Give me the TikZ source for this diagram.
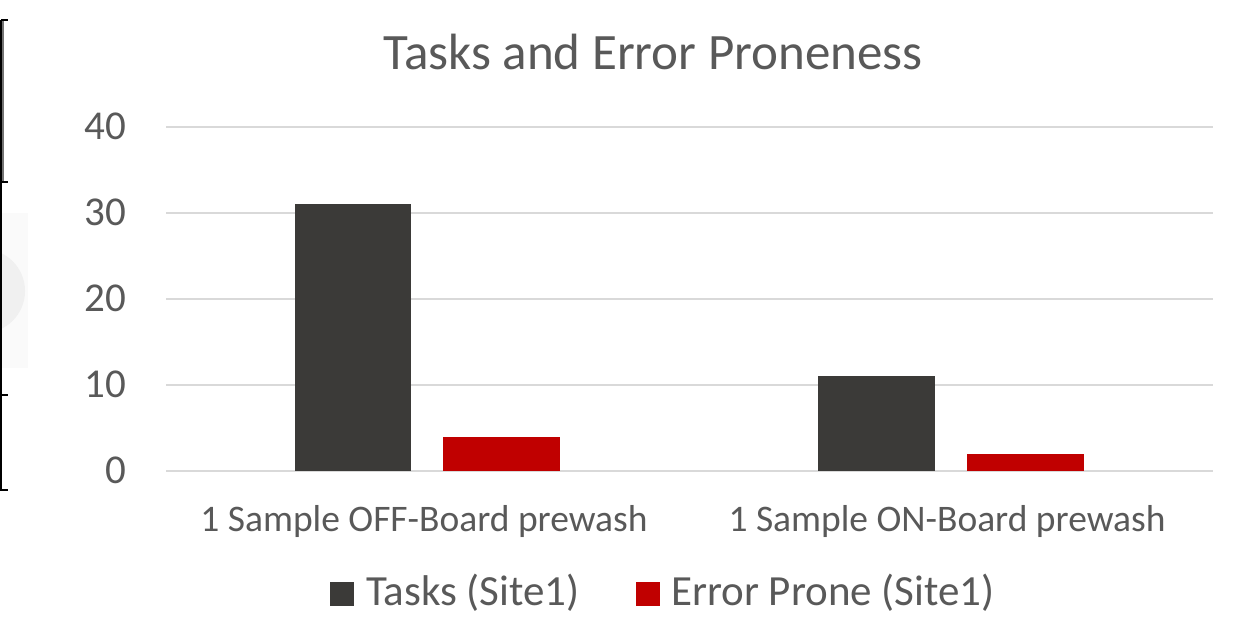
\documentclass[tikz,border=0pt]{standalone}
\usepackage{fontspec}
\setmainfont{Carlito}
\definecolor{txt}{HTML}{595959}
\definecolor{grid}{HTML}{D9D9D9}
\definecolor{darkbar}{HTML}{3B3A38}
\definecolor{redbar}{HTML}{C00000}
\tikzset{
  gridline/.style={draw=grid, line width=1.6pt},
  ylab/.style={anchor=base east, text=txt, font=\fontsize{41}{41}\selectfont, inner sep=0pt},
  catlab/.style={anchor=base, text=txt, font=\fontsize{37.5}{37.5}\selectfont, inner sep=0pt},
  leglab/.style={anchor=base west, text=txt, font=\fontsize{43}{43}\selectfont, inner sep=0pt},
  bardark/.style={fill=darkbar, draw=none},
  barred/.style={fill=redbar, draw=none}
}
\begin{document}
\begin{tikzpicture}[x=1pt,y=-1pt]
\useasboundingbox[fill=white] (0,0) rectangle (1233,617);
% left-edge artifacts
\fill[black!2] (0,213) rectangle (28,368);
\fill[black!6] (-17,291) circle (42);
\draw[black!55, line width=2pt] (3,20) -- (3,182);
\draw[black, line width=1.3pt] (1,20) -- (8,20);
\draw[black, line width=1.3pt] (1,20) -- (1,490);
\draw[black, line width=1.3pt] (0,182) -- (8,182);
\draw[black, line width=1.3pt] (0,395) -- (8,395);
\draw[black, line width=1.3pt] (0,490) -- (8,490);
% title
\node[anchor=base, text=txt, font=\fontsize{51}{51}\selectfont, inner sep=0pt] (title) at (653,70) {Tasks and Error Proneness};
% gridlines
\foreach \v/\y in {0/471,10/385,20/299,30/213,40/127}{
  \draw[gridline] (166,\y) -- (1213,\y);
  \node[ylab] (y\v) at (126,\y+12.5) {\v};
}
% bars
\path[bardark] (295,204.4) rectangle (411,471);
\path[barred] (443,436.6) rectangle (560,471);
\path[bardark] (818,376.4) rectangle (935,471);
\path[barred] (967,453.8) rectangle (1084,471);
% category labels
\node[catlab] (c1) at (424,531) {1 Sample OFF-Board prewash};
\node[catlab] (c2) at (947,531) {1 Sample ON-Board prewash};
% legend
\fill[darkbar] (330,582) rectangle (354,606);
\node[leglab] (l1) at (366,605) {Tasks (Site1)};
\fill[redbar] (636,582) rectangle (660,606);
\node[leglab] (l2) at (671,605) {Error Prone (Site1)};
\end{tikzpicture}
\end{document}
